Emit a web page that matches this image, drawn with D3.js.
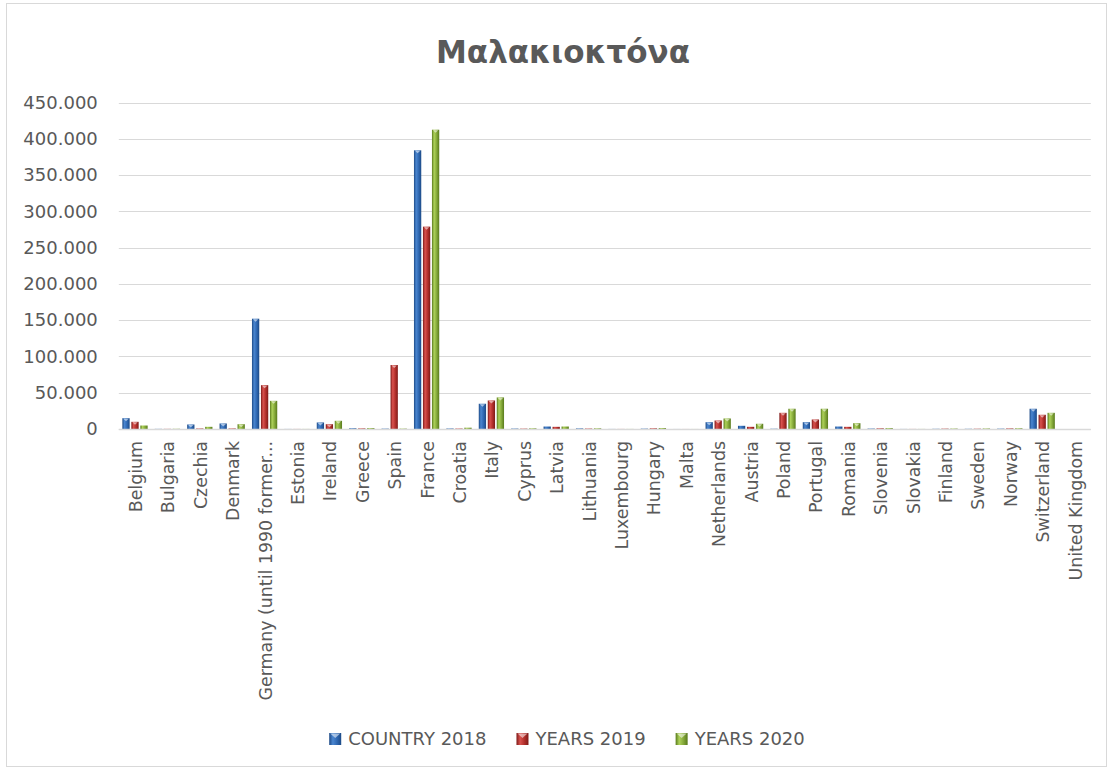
<!DOCTYPE html>
<html>
<head>
<meta charset="utf-8">
<script src="https://cdn.jsdelivr.net/npm/d3@7"></script>
<style>
  html, body { margin: 0; padding: 0; background: #ffffff; }
  svg { display: block; }
  text { font-family: "DejaVu Sans", sans-serif; fill: #595959; }
</style>
</head>
<body>
<svg id="chart" width="1112" height="772"></svg>
<script>
// ---- data ----
const title = "Μαλακιοκτόνα";
const categories = ["Belgium","Bulgaria","Czechia","Denmark","Germany (until 1990 former territory of the FRG)","Estonia","Ireland","Greece","Spain","France","Croatia","Italy","Cyprus","Latvia","Lithuania","Luxembourg","Hungary","Malta","Netherlands","Austria","Poland","Portugal","Romania","Slovenia","Slovakia","Finland","Sweden","Norway","Switzerland","United Kingdom"];
const seriesNames = ["COUNTRY 2018","YEARS 2019","YEARS 2020"];
const values2018 = [14900,200,6200,7600,152000,100,9000,1000,500,384100,700,34800,600,3400,800,100,500,50,9400,4400,400,9400,3400,600,100,300,300,500,27900,0];
const values2019 = [9900,200,700,700,60400,100,6600,800,88200,278900,600,39300,500,3000,600,100,900,50,11700,3000,22300,13100,3000,900,100,500,400,800,19600,0];
const values2020 = [4800,300,3000,6600,38800,100,11300,1200,500,412500,1800,43500,900,3400,900,100,1300,50,14500,7200,27900,27900,8000,1200,100,600,700,1000,22300,0];
const yTicks = [0,50000,100000,150000,200000,250000,300000,350000,400000,450000];

const seriesValues = [values2018, values2019, values2020];
const colors = [
  {dark:"#1d4a86", mid:"#4a86d0", base:"#2f68b2"},
  {dark:"#7e1a18", mid:"#d9524e", base:"#b3302c"},
  {dark:"#587a1c", mid:"#aed25a", base:"#85a93a"}
];

const svg = d3.select("#chart");
const W = 1112, H = 772;

// chart border
svg.append("rect").attr("x",6.5).attr("y",3.5).attr("width",1100).attr("height",763)
  .attr("fill","#fff").attr("stroke","#d9d9d9").attr("stroke-width",1);

// gradients
const defs = svg.append("defs");
colors.forEach((c,i)=>{
  const g = defs.append("linearGradient").attr("id","g"+i).attr("x1","0").attr("x2","1").attr("y1","0").attr("y2","0");
  g.append("stop").attr("offset","0%").attr("stop-color",c.dark);
  g.append("stop").attr("offset","30%").attr("stop-color",c.mid);
  g.append("stop").attr("offset","65%").attr("stop-color",c.base);
  g.append("stop").attr("offset","100%").attr("stop-color",c.dark);
});

const plot = {left:118.8, right:1090.8, top:102.5, bottom:429};

const x = d3.scaleBand().domain(categories).range([plot.left, plot.right]).padding(0);
const groupPad = 0.11;
const xs = d3.scaleBand().domain(d3.range(seriesNames.length))
  .range([x.step()*groupPad, x.step()*(1-groupPad)]).paddingInner(0.19).paddingOuter(0);
const y = d3.scaleLinear().domain([0, 450000]).range([plot.bottom, plot.top]);

const locale = d3.formatLocale({decimal:",", thousands:".", grouping:[3], currency:["",""]});
const fmt = locale.format(",");

// gridlines
svg.append("g").selectAll("line").data(yTicks).join("line")
  .attr("x1",plot.left).attr("x2",plot.right)
  .attr("y1",d=>Math.round(y(d))+0.5).attr("y2",d=>Math.round(y(d))+0.5)
  .attr("stroke","#d9d9d9").attr("stroke-width",1);

// y axis labels
const yAxis = d3.axisLeft(y).tickValues(yTicks).tickFormat(fmt).tickSize(0).tickPadding(0);
const yg = svg.append("g").attr("transform",`translate(${plot.left-21},0)`).call(yAxis);
yg.select(".domain").remove();
yg.selectAll("text").style("font-size","18px").style("fill","#595959")
  .style("font-family","'DejaVu Sans', sans-serif");

// bars
const rows = categories.map((c,ci)=>seriesValues.map((arr,si)=>({c, si, v:arr[ci]})));
const groups = svg.append("g").selectAll("g").data(rows).join("g")
  .attr("transform",(d,i)=>`translate(${x(categories[i])},0)`);
groups.selectAll("rect").data(d=>d).join("rect")
  .attr("x",d=>xs(d.si)).attr("width",xs.bandwidth())
  .attr("y",d=>y(d.v)).attr("height",d=>y(0)-y(d.v))
  .attr("fill",d=>`url(#g${d.si})`);
// top highlight caps
groups.selectAll("path.cap").data(d=>d.filter(e=>y(0)-y(e.v)>4)).join("path")
  .attr("class","cap")
  .attr("d",d=>{
    const x0 = xs(d.si), w = xs.bandwidth(), t = y(d.v);
    return `M${x0+1},${t+0.5} L${x0+w-1},${t+0.5} L${x0+w/2},${t+3} Z`;
  })
  .attr("fill","#ffffff").attr("opacity",0.55);

// x axis line
svg.append("line").attr("x1",plot.left).attr("x2",plot.right)
  .attr("y1",Math.round(y(0))+0.5).attr("y2",Math.round(y(0))+0.5)
  .attr("stroke","#d9d9d9").attr("stroke-width",1.5);

// x labels (rotated, truncated like the original)
const maxLabelLen = 266;
const xl = svg.append("g").selectAll("text").data(categories).join("text")
  .attr("transform",d=>`translate(${x(d)+x.bandwidth()/2+1},${plot.bottom+12}) rotate(-90)`)
  .attr("text-anchor","end").attr("dy","0.35em")
  .style("font-size","17.4px")
  .text(d=>d);
xl.each(function(d){
  const el = d3.select(this);
  if (this.getComputedTextLength() > maxLabelLen) {
    let s = d;
    while (s.length > 1) {
      s = s.slice(0,-1);
      el.text(s.trimEnd() + "...");
      if (this.getComputedTextLength() <= maxLabelLen) break;
    }
  }
});

// title
svg.append("text").attr("x",W/2+7).attr("y",63).attr("text-anchor","middle")
  .style("font-size","31px").style("font-weight","bold").text(title);

// legend
const leg = svg.append("g");
const items = leg.selectAll("g").data(seriesNames).join("g");
items.append("rect").attr("x",0).attr("y",-6).attr("width",12).attr("height",12)
  .attr("fill",(d,i)=>`url(#g${i})`);
items.append("path").attr("d","M1,-5.5 L11,-5.5 L6,-1 Z").attr("fill","#fff").attr("opacity",0.55);
items.append("text").attr("x",19).attr("dy","0.35em").style("font-size","18px").text(d=>d);
const gap = 30;
const widths = [];
items.each(function(){ widths.push(this.getBBox().width); });
const total = d3.sum(widths) + gap*(widths.length-1);
const start = W/2 + 11 - total/2;
items.attr("transform",(d,i)=>{
  const tx = start + d3.sum(widths.slice(0,i)) + gap*i;
  return `translate(${tx},739)`;
});
</script>
</body>
</html>
